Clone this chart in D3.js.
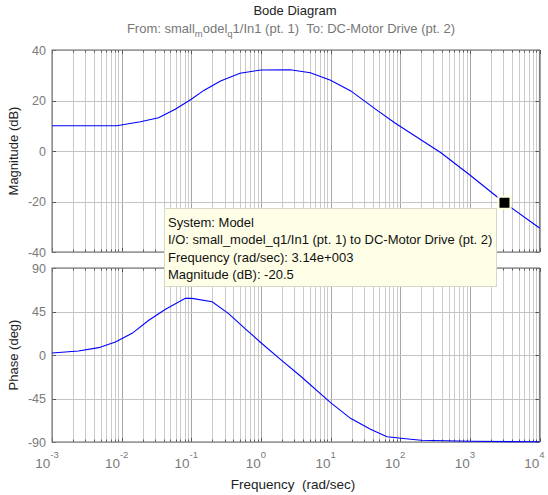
<!DOCTYPE html>
<html>
<head>
<meta charset="utf-8">
<script src="https://cdn.jsdelivr.net/npm/d3@7"></script>
<style>
  html, body { margin: 0; padding: 0; background: #ffffff; }
  svg { display: block; font-family: "Liberation Sans", Arial, sans-serif; }
</style>
</head>
<body>
<svg id="chart" width="548" height="495"></svg>
<script>
// Frequency response samples (rad/sec) and values
const magFreq  = [1e-3, 10**-2.5, 10**-2.07, 10**-1.73, 10**-1.47, 10**-1.23, 10**-1.0, 10**-0.82, 10**-0.58, 10**-0.3, 1, 10**0.42, 10**0.71, 10, 10**1.29, 10**1.65, 10**1.93, 10**2.58, 1e3, 3.14e3, 1e4];
const magDb    = [10, 10, 10, 11.6, 13.2, 16.5, 20.5, 24.0, 27.7, 30.8, 32.1, 32.2, 31.0, 28.0, 23.8, 16.5, 11.0, -0.6, -9.5, -20.5, -30.5];

const phaseFreq = [1e-3, 10**-2.62, 10**-2.33, 10**-2.09, 10**-1.85, 10**-1.61, 10**-1.37, 10**-1.085, 10**-0.99, 10**-0.70, 10**-0.46, 10**-0.22, 1, 10**0.28, 10**0.567, 10, 10**1.286, 10**1.573, 10**1.81, 10**2.15, 10**2.3, 1e3, 1e4];
const phaseDeg  = [2, 4.1, 7.6, 13.4, 22.4, 35.9, 47.3, 58.6, 58.6, 55.1, 42.5, 26.8, 12.7, -4.5, -21.7, -49.3, -65.5, -76.8, -84.5, -87.2, -88.2, -89.3, -89.8];

const decadeExps = [-3, -2, -1, 0, 1, 2, 3, 4];
const magTicks   = [40, 20, 0, -20, -40];
const phaseTicks = [90, 45, 0, -45, -90];

// Data cursor
const cursorFreq = 3.14e3;
const cursorMag  = -20.5;
const cursorLines = [
  "System: Model",
  "I/O: small_model_q1/In1 (pt. 1) to DC-Motor Drive (pt. 2)",
  "Frequency (rad/sec): 3.14e+003",
  "Magnitude (dB): " + cursorMag
];

const svg = d3.select("#chart");
const axisColor = "#7a7a7a";
const left = 52, right = 539.5;

const x = d3.scaleLog().domain([1e-3, 1e4]).range([left, right]);
const yMag = d3.scaleLinear().domain([-40, 40]).range([252, 50]);
const yPh  = d3.scaleLinear().domain([-90, 90]).range([442, 268]);

// minor (2..9) and major frequencies
const majors = decadeExps.map(e => 10 ** e);
const minors = [];
decadeExps.slice(0, -1).forEach(e => { for (let m = 2; m <= 9; m++) minors.push(m * 10 ** e); });

function panel(y, ticks, data) {
  const [y0, y1] = y.range();
  const g = svg.append("g");
  // vertical grid
  g.selectAll(".vmin").data(minors).join("line")
    .attr("x1", d => Math.round(x(d)) + 0.5).attr("x2", d => Math.round(x(d)) + 0.5)
    .attr("y1", y1).attr("y2", y0)
    .attr("stroke", "#cbcbcb").attr("stroke-width", 1);
  g.selectAll(".vmaj").data(majors).join("line")
    .attr("x1", d => Math.round(x(d)) + 0.5).attr("x2", d => Math.round(x(d)) + 0.5)
    .attr("y1", y1).attr("y2", y0)
    .attr("stroke", "#a6a6a6").attr("stroke-width", 1);
  // horizontal grid
  g.selectAll(".hg").data(ticks).join("line")
    .attr("x1", left).attr("x2", right)
    .attr("y1", d => Math.round(y(d)) + 0.5).attr("y2", d => Math.round(y(d)) + 0.5)
    .attr("stroke", "#c4c4c4").attr("stroke-width", 1);

  // edge tick marks along top/bottom
  const allX = minors.concat(majors);
  [y0, y1].forEach((yy, i) => {
    const dir = i === 0 ? -1 : 1;
    g.selectAll(null).data(allX).join("line")
      .attr("x1", d => Math.round(x(d)) + 0.5).attr("x2", d => Math.round(x(d)) + 0.5)
      .attr("y1", yy).attr("y2", d => yy + dir * (majors.includes(d) ? 4 : 2.5))
      .attr("stroke", "#555").attr("stroke-width", 1);
  });
  [left, right].forEach((xx, i) => {
    const dir = i === 0 ? 1 : -1;
    g.selectAll(null).data(ticks).join("line")
      .attr("x1", xx).attr("x2", xx + dir * 4)
      .attr("y1", d => Math.round(y(d)) + 0.5).attr("y2", d => Math.round(y(d)) + 0.5)
      .attr("stroke", "#555").attr("stroke-width", 1);
  });

  // frame
  g.append("rect").attr("x", left).attr("y", y1).attr("width", right - left).attr("height", y0 - y1)
    .attr("fill", "none").attr("stroke", "#808080").attr("stroke-width", 1.2);

  // y tick labels
  g.selectAll(".yl").data(ticks).join("text")
    .attr("x", left - 6).attr("y", d => y(d) + 4.5)
    .attr("text-anchor", "end").attr("font-size", 12.5).attr("fill", axisColor)
    .text(d => d);

  // response curve
  g.append("path").datum(data)
    .attr("d", d3.line().x(d => x(d[0])).y(d => y(d[1])))
    .attr("fill", "none").attr("stroke", "#0000ff").attr("stroke-width", 1.1);
  return g;
}

panel(yMag, magTicks, magFreq.map((f, i) => [f, magDb[i]]));
panel(yPh, phaseTicks, phaseFreq.map((f, i) => [f, phaseDeg[i]]));

// x tick labels 10^n
const xl = svg.selectAll(".xl").data(decadeExps).join("text")
  .attr("x", d => x(10 ** d) - 5).attr("y", 468)
  .attr("text-anchor", "middle").attr("font-size", 13.5).attr("fill", axisColor);
xl.append("tspan").text("10");
xl.append("tspan").attr("dy", -10).attr("font-size", 9.5).text(d => d);

// titles and axis labels
svg.append("text").attr("x", 295).attr("y", 15).attr("text-anchor", "middle")
  .attr("font-size", 13).attr("fill", "#222").text("Bode Diagram");
const sub = svg.append("text").attr("x", 291).attr("y", 33).attr("text-anchor", "middle")
  .attr("font-size", 13).attr("fill", "#777");
sub.append("tspan").text("From: small");
sub.append("tspan").attr("dy", 4).attr("font-size", 9.5).text("m");
sub.append("tspan").attr("dy", -4).text("odel");
sub.append("tspan").attr("dy", 4).attr("font-size", 9.5).text("q");
sub.append("tspan").attr("dy", -4).text("1/In1 (pt. 1)\u00a0\u00a0To: DC-Motor Drive (pt. 2)");

svg.append("text").attr("x", 293).attr("y", 489).attr("text-anchor", "middle")
  .attr("font-size", 13.5).attr("fill", "#222").text("Frequency\u00a0\u00a0(rad/sec)");
svg.append("text").attr("transform", "translate(18,151) rotate(-90)").attr("text-anchor", "middle")
  .attr("font-size", 13).attr("fill", "#222").text("Magnitude (dB)");
svg.append("text").attr("transform", "translate(18,355) rotate(-90)").attr("text-anchor", "middle")
  .attr("font-size", 13).attr("fill", "#222").text("Phase (deg)");

// data cursor box
const tip = svg.append("g");
tip.append("rect").attr("x", 164.5).attr("y", 208.5).attr("width", 332).attr("height", 78)
  .attr("fill", "#ffffe8").attr("stroke", "#d8d8c8").attr("stroke-width", 1);
tip.selectAll("text").data(cursorLines).join("text")
  .attr("x", 168).attr("y", (d, i) => 227 + i * 17.4)
  .attr("font-size", 13).attr("fill", "#111").text(d => d);

// cursor marker
const mx = x(cursorFreq), my = yMag(cursorMag);
svg.append("rect").attr("x", mx - 7).attr("y", my - 7).attr("width", 14).attr("height", 14)
  .attr("fill", "#ffffe0");
svg.append("rect").attr("x", mx - 5).attr("y", my - 5).attr("width", 10).attr("height", 10)
  .attr("fill", "#000");
</script>
</body>
</html>
